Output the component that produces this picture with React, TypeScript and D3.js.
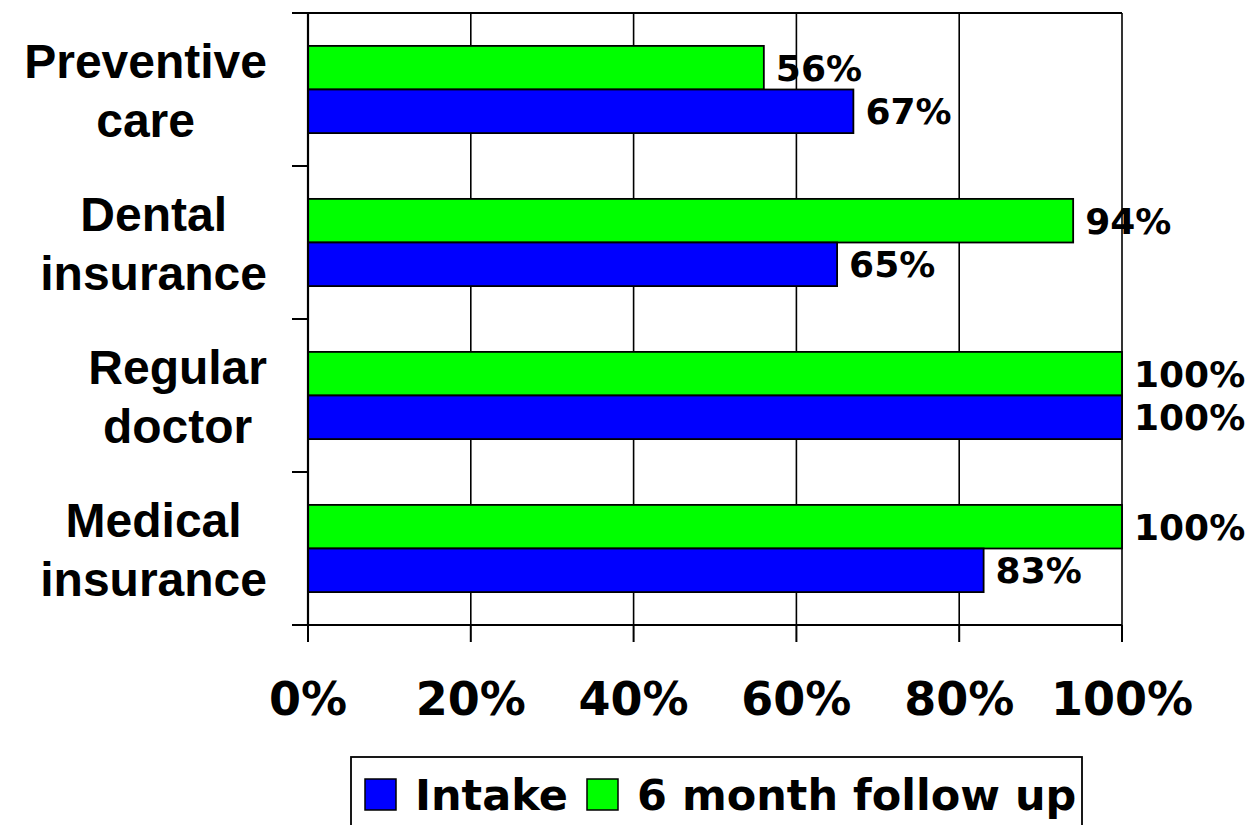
import React, { useEffect, useRef } from "react";
import * as d3 from "d3";

// categories top to bottom, each label split into two lines
const categories = ["Preventive care", "Dental insurance", "Regular doctor", "Medical insurance"];
const categoryLines = [
  ["Preventive", "care"],
  ["Dental", "insurance"],
  ["Regular", "doctor"],
  ["Medical", "insurance"],
];
const followUp = [56, 94, 100, 100]; // 6 month follow up
const intake = [67, 65, 100, 83];
const xTicks = [0, 20, 40, 60, 80, 100];

const seriesNames = ["6 month follow up", "Intake"];
const seriesColors = ["#00ff00", "#0000ff"];

const App = () => {
  const ref = useRef<SVGSVGElement>(null);

  useEffect(() => {
    const width = 1252;
    const height = 825;
    const left = 308;
    const right = 1122;
    const top = 13;
    const bottom = 625;

    const svg = d3.select(ref.current).attr("width", width).attr("height", height);
    svg.selectAll("*").remove();

    const x = d3.scaleLinear().domain([0, 100]).range([left, right]);
    const y = d3
      .scaleBand()
      .domain(categories)
      .range([top, bottom])
      .paddingInner(0.43)
      .paddingOuter(0.215);
    const sub = d3.scaleBand().domain(seriesNames).range([0, y.bandwidth()]);

    // gridlines
    svg
      .selectAll(".grid")
      .data(xTicks.slice(1))
      .join("line")
      .attr("x1", (d) => x(d))
      .attr("x2", (d) => x(d))
      .attr("y1", top)
      .attr("y2", bottom)
      .attr("stroke", "#000")
      .attr("stroke-width", 1.6);

    // top border
    svg
      .append("line")
      .attr("x1", left - 16)
      .attr("x2", right)
      .attr("y1", top)
      .attr("y2", top)
      .attr("stroke", "#000")
      .attr("stroke-width", 2);

    // bars
    const values = [followUp, intake];
    seriesNames.forEach((s, si) => {
      const g = svg.append("g");
      g.selectAll("rect")
        .data(categories)
        .join("rect")
        .attr("x", left)
        .attr("y", (c) => (y(c) as number) + (sub(s) as number))
        .attr("width", (c, i) => x(values[si][i]) - left)
        .attr("height", sub.bandwidth())
        .attr("fill", seriesColors[si])
        .attr("stroke", "#000")
        .attr("stroke-width", 1.8);

      g.selectAll("text")
        .data(categories)
        .join("text")
        .attr("x", (c, i) => x(values[si][i]) + 12)
        .attr("y", (c) => (y(c) as number) + (sub(s) as number) + sub.bandwidth() / 2 + 13)
        .attr("font-family", "DejaVu Sans")
        .attr("font-weight", "bold")
        .attr("font-size", 36)
        .attr("fill", "#000")
        .text((c, i) => values[si][i] + "%");
    });

    // left axis
    svg
      .append("line")
      .attr("x1", left)
      .attr("x2", left)
      .attr("y1", top)
      .attr("y2", bottom)
      .attr("stroke", "#000")
      .attr("stroke-width", 2.2);
    const yTickPos = categories.map((c) => (y(c) as number) - (y.step() * y.paddingInner()) / 2).concat([bottom]);
    svg
      .selectAll(".ytick")
      .data(yTickPos)
      .join("line")
      .attr("x1", left - 16)
      .attr("x2", left)
      .attr("y1", (d) => d)
      .attr("y2", (d) => d)
      .attr("stroke", "#000")
      .attr("stroke-width", 2);

    // bottom axis
    svg
      .append("line")
      .attr("x1", left - 16)
      .attr("x2", right)
      .attr("y1", bottom)
      .attr("y2", bottom)
      .attr("stroke", "#000")
      .attr("stroke-width", 2.2);
    svg
      .selectAll(".xtick")
      .data(xTicks)
      .join("line")
      .attr("x1", (d) => x(d))
      .attr("x2", (d) => x(d))
      .attr("y1", bottom)
      .attr("y2", bottom + 17)
      .attr("stroke", "#000")
      .attr("stroke-width", 2);
    svg
      .selectAll(".xlabel")
      .data(xTicks)
      .join("text")
      .attr("x", (d) => x(d))
      .attr("y", 715)
      .attr("text-anchor", "middle")
      .attr("font-family", "DejaVu Sans")
      .attr("font-weight", "bold")
      .attr("font-size", 46)
      .text((d) => d + "%");

    // category labels: lines centred on each other, block right-aligned
    categories.forEach((c, i) => {
      const cy = (y(c) as number) + y.bandwidth() / 2;
      const g = svg.append("g");
      const texts = g
        .selectAll("text")
        .data(categoryLines[i])
        .join("text")
        .attr("y", (d, j) => cy + (j === 0 ? -12 : 47))
        .attr("text-anchor", "middle")
        .attr("font-family", "Liberation Sans, Arial")
        .attr("font-weight", "bold")
        .attr("font-size", 48)
        .text((d) => d);
      let maxW = 0;
      texts.each(function () {
        maxW = Math.max(maxW, (this as SVGTextElement).getComputedTextLength());
      });
      texts.attr("x", 267 - maxW / 2);
    });

    // legend
    const lg = svg.append("g");
    lg.append("rect")
      .attr("x", 351)
      .attr("y", 757)
      .attr("width", 731)
      .attr("height", 120)
      .attr("fill", "none")
      .attr("stroke", "#000")
      .attr("stroke-width", 1.8);
    const legendItems = [
      { name: seriesNames[1], color: seriesColors[1], x: 365 },
      { name: seriesNames[0], color: seriesColors[0], x: 587 },
    ];
    legendItems.forEach((it) => {
      lg.append("rect")
        .attr("x", it.x)
        .attr("y", 779)
        .attr("width", 31)
        .attr("height", 31)
        .attr("fill", it.color)
        .attr("stroke", "#000")
        .attr("stroke-width", 1.5);
      lg.append("text")
        .attr("x", it.x + 50)
        .attr("y", 810)
        .attr("font-family", "DejaVu Sans")
        .attr("font-weight", "bold")
        .attr("font-size", 43)
        .text(it.name);
    });
  }, []);

  return <svg ref={ref} style={{ position: "absolute", left: 0, top: 0, background: "#fff" }} />;
};

export default App;
